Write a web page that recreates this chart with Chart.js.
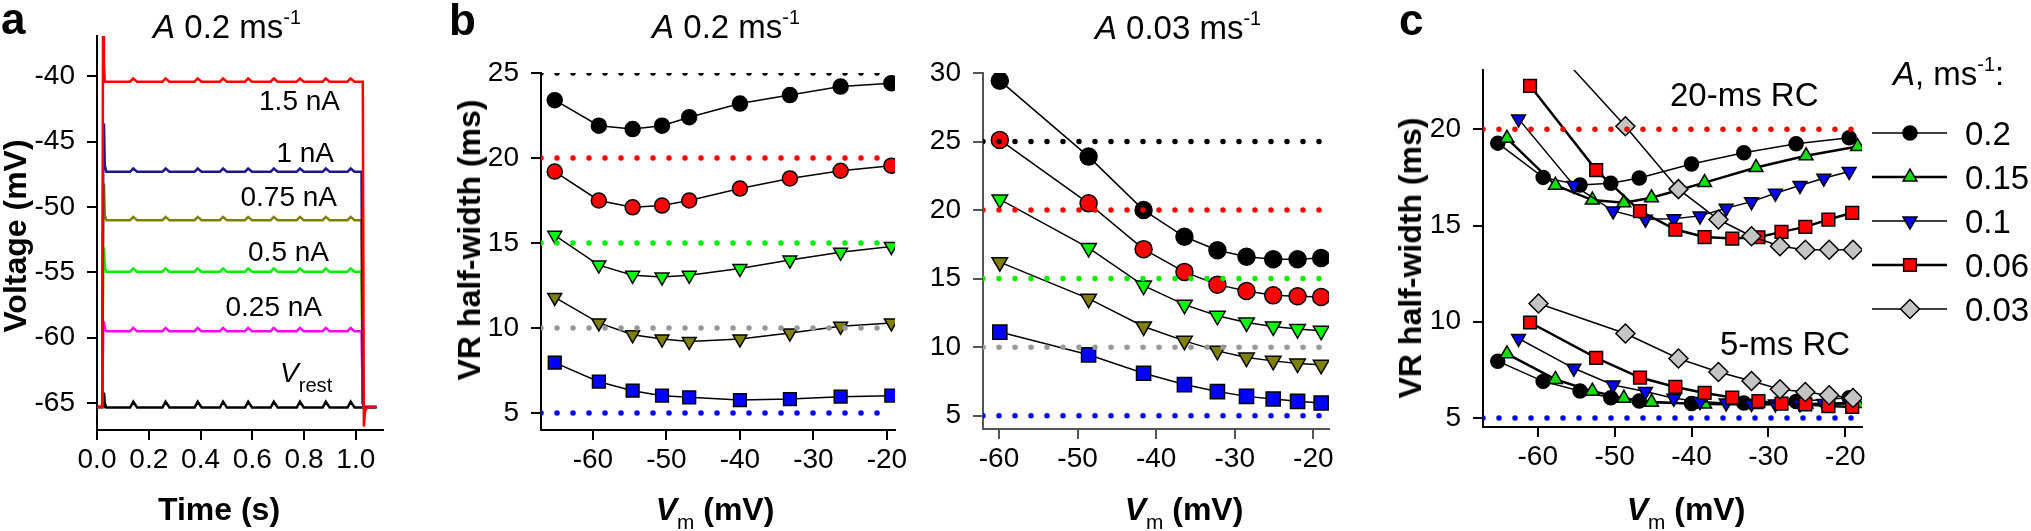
<!DOCTYPE html>
<html>
<head>
<meta charset="utf-8">
<script src="https://cdn.jsdelivr.net/npm/chart.js@4.4.0/dist/chart.umd.min.js"></script>
<style>
  body { margin: 0; background: #fff; }
  #fig { position: relative; width: 2031px; height: 531px; overflow: hidden;
         font-family: "Liberation Sans", Arial, Helvetica, sans-serif; color: #000; }
  canvas { position: absolute; left: 0; top: 0; }
  .t { position: absolute; white-space: nowrap; line-height: 1; }
  .sup { position: relative; top: -0.72em; font-size: 0.6em; }
  .sub { position: relative; top: 0.45em; font-size: 0.65em; font-weight: normal; }
  .rest { position: relative; top: 0.5em; font-size: 0.72em; }
</style>
</head>
<body>
<div id="fig">
  <canvas id="chart-a" width="2031" height="531"></canvas>
  <canvas id="chart-b1" width="2031" height="531"></canvas>
  <canvas id="chart-b2" width="2031" height="531"></canvas>
  <canvas id="chart-c" width="2031" height="531"></canvas>
</div>
<script>
const FONT = '"Liberation Sans", Arial, Helvetica, sans-serif';

// ---- a : voltage traces, A 0.2 ms-1 ----
const timeA = [0, 0.020, 0.024, 0.027, 0.030, 0.036,
  0.128, 0.140, 0.155, 0.253, 0.265, 0.280, 0.377, 0.389, 0.404,
  0.475, 0.487, 0.502, 0.572, 0.584, 0.599, 0.671, 0.683, 0.698,
  0.772, 0.784, 0.799, 0.872, 0.884, 0.899, 0.968, 0.980, 0.995,
  1.022, 1.027, 1.031, 1.036, 1.045, 1.080];
const v15nA = [-65.3, -65.3, -30.0, -39.0, -40.4, -40.4,
  -40.4, -40.15, -40.4, -40.4, -40.15, -40.4, -40.4, -40.15, -40.4,
  -40.4, -40.15, -40.4, -40.4, -40.15, -40.4, -40.4, -40.15, -40.4,
  -40.4, -40.15, -40.4, -40.4, -40.15, -40.4, -40.4, -40.15, -40.4,
  -40.4, -40.4, -66.8, -65.6, -65.3, -65.3];
const v1nA = [-65.3, -65.3, -47.0, -43.6, -46.8, -47.3,
  -47.3, -47.05, -47.3, -47.3, -47.05, -47.3, -47.3, -47.05, -47.3,
  -47.3, -47.05, -47.3, -47.3, -47.05, -47.3, -47.3, -47.05, -47.3,
  -47.3, -47.05, -47.3, -47.3, -47.05, -47.3, -47.3, -47.05, -47.3,
  -47.3, -65.0, -65.3, -65.3, -65.3, -65.3];
const v075nA = [-65.3, -65.3, -50.8, -48.2, -50.6, -51.0,
  -51.0, -50.75, -51.0, -51.0, -50.75, -51.0, -51.0, -50.75, -51.0,
  -51.0, -50.75, -51.0, -51.0, -50.75, -51.0, -51.0, -50.75, -51.0,
  -51.0, -50.75, -51.0, -51.0, -50.75, -51.0, -51.0, -50.75, -51.0,
  -51.0, -65.0, -65.3, -65.3, -65.3, -65.3];
const v05nA = [-65.3, -65.3, -54.8, -53.1, -54.6, -54.95,
  -54.95, -54.7, -54.95, -54.95, -54.7, -54.95, -54.95, -54.7, -54.95,
  -54.95, -54.7, -54.95, -54.95, -54.7, -54.95, -54.95, -54.7, -54.95,
  -54.95, -54.7, -54.95, -54.95, -54.7, -54.95, -54.95, -54.7, -54.95,
  -54.95, -65.0, -65.3, -65.3, -65.3, -65.3];
const v025nA = [-65.3, -65.3, -59.3, -58.75, -59.3, -59.5,
  -59.5, -59.25, -59.5, -59.5, -59.25, -59.5, -59.5, -59.25, -59.5,
  -59.5, -59.25, -59.5, -59.5, -59.25, -59.5, -59.5, -59.25, -59.5,
  -59.5, -59.25, -59.5, -59.5, -59.25, -59.5, -59.5, -59.25, -59.5,
  -59.5, -65.0, -65.3, -65.3, -65.3, -65.3];
const vRest = [-65.3, -65.3, -65.3, -64.2, -65.0, -65.35,
  -65.35, -64.9, -65.35, -65.35, -64.9, -65.35, -65.35, -64.9, -65.35,
  -65.35, -64.9, -65.35, -65.35, -64.9, -65.35, -65.35, -64.9, -65.35,
  -65.35, -64.9, -65.35, -65.35, -64.9, -65.35, -65.35, -64.9, -65.35,
  -65.35, -65.35, -65.35, -65.35, -65.35, -65.35];
const tickTimeA = [0, 0.2, 0.4, 0.6, 0.8, 1.0];
const tickVoltA = [-65, -60, -55, -50, -45, -40];

// ---- b : VR half-width vs Vm ----
const vmB02 = [-65.2, -59.2, -54.6, -50.6, -46.9, -40.0, -33.2, -26.3, -19.4];
const b02rc25 = [23.4, 21.9, 21.7, 21.9, 22.4, 23.2, 23.7, 24.2, 24.4];
const b02rc20 = [19.2, 17.5, 17.1, 17.2, 17.5, 18.2, 18.8, 19.25, 19.55];
const b02rc15 = [15.45, 13.7, 13.1, 13.0, 13.1, 13.5, 14.0, 14.45, 14.8];
const b02rc10 = [11.8, 10.3, 9.6, 9.35, 9.2, 9.35, 9.7, 10.1, 10.3];
const b02rc5  = [7.96, 6.84, 6.31, 6.02, 5.92, 5.76, 5.82, 5.96, 6.02];

const vmB003 = [-59.9, -48.6, -41.6, -36.4, -32.2, -28.5, -25.1, -22.0, -19.0];
const b003rc25 = [29.44, 23.9, 20.0, 18.05, 17.07, 16.6, 16.41, 16.41, 16.5];
const b003rc20 = [25.12, 20.49, 17.15, 15.49, 14.56, 14.1, 13.78, 13.71, 13.66];
const b003rc15 = [20.78, 17.24, 14.49, 13.1, 12.29, 11.8, 11.51, 11.32, 11.2];
const b003rc10 = [16.2, 13.54, 11.51, 10.46, 9.73, 9.24, 9.0, 8.8, 8.71];
const b003rc5  = [11.1, 9.44, 8.1, 7.27, 6.76, 6.41, 6.22, 6.05, 5.93];

const rcLevels = [25, 20, 15, 10, 5];
const tickVm = [-60, -50, -40, -30, -20];
const tickHwB02 = [5, 10, 15, 20, 25];
const tickHwB003 = [5, 10, 15, 20, 25, 30];

// ---- c : 20-ms and 5-ms RC for several A ----
const aLabels = ['0.2', '0.15', '0.1', '0.06', '0.03'];
const vmC02  = [-65.2, -59.3, -54.5, -50.5, -46.8, -40.0, -33.2, -26.4, -19.5];
const c02rc20 = [19.28, 17.5, 17.1, 17.2, 17.47, 18.2, 18.78, 19.25, 19.56];
const c02rc5  = [7.95, 6.9, 6.4, 6.05, 5.88, 5.75, 5.78, 5.85, 6.05];
const vmC015 = [-64.0, -57.7, -52.9, -48.8, -45.2, -38.3, -31.6, -25.1, -18.4];
const c015rc20 = [19.53, 17.09, 16.32, 16.18, 16.44, 17.23, 18.01, 18.62, 19.1];
const c015rc5  = [8.33, 7.0, 6.39, 6.03, 5.82, 5.72, 5.7, 5.72, 5.75];
const vmC01  = [-62.5, -55.3, -50.2, -46.0, -42.3, -38.9, -35.5, -32.2, -29.1, -25.9, -22.8, -19.5];
const c01rc20 = [20.54, 17.08, 15.76, 15.33, 15.35, 15.5, 15.9, 16.24, 16.68, 17.08, 17.46, 17.81];
const c01rc5  = [9.13, 7.58, 6.71, 6.37, 6.02, 5.85, 5.78, 5.75, 5.73, 5.73, 5.75, 5.8];
const vmC006 = [-61.0, -52.4, -46.7, -42.1, -38.3, -34.7, -31.3, -28.3, -25.2, -22.2, -19.1];
const c006rc20 = [22.26, 17.88, 15.75, 14.79, 14.4, 14.32, 14.39, 14.67, 14.93, 15.31, 15.66];
const c006rc5  = [9.96, 8.12, 7.1, 6.61, 6.3, 6.06, 5.87, 5.75, 5.7, 5.62, 5.57];
const vmC003 = [-59.9, -48.6, -41.7, -36.5, -32.2, -28.5, -25.2, -22.1, -19.0];
const c003rc20 = [25.1, 20.16, 16.89, 15.31, 14.44, 13.92, 13.74, 13.74, 13.74];
const c003rc5  = [10.95, 9.39, 8.09, 7.39, 6.92, 6.49, 6.35, 6.18, 6.04];
const tickHwC = [5, 10, 15, 20];

// -------------------------------------------------------------------
function pts(xs, ys) { return xs.map((x, i) => ({ x: x, y: ys[i] })); }

function axis(min, max, ticks, horizontal, color, fmt) {
  return {
    type: 'linear', min: min, max: max,
    afterBuildTicks: s => { s.ticks = ticks.map(v => ({ value: v })); },
    afterFit: s => { if (horizontal) s.height = 60; else s.width = 90; },
    ticks: {
      color: '#000', font: { family: FONT, size: 28 }, padding: horizontal ? 3 : 12,
      autoSkip: false, maxRotation: 0, callback: fmt || (v => String(v))
    },
    grid: { drawOnChartArea: false, drawTicks: true, tickLength: 10, color: color, lineWidth: 2 },
    border: { display: true, color: color, width: 2 }
  };
}

function area(l, t, r, b) {
  return { left: l - 90, top: t, right: 2031 - r, bottom: 531 - b - 60 };
}

function baseOptions(pad, xs, ys) {
  return {
    responsive: false, animation: false, devicePixelRatio: 1,
    layout: { padding: pad },
    plugins: { legend: { display: false }, tooltip: { enabled: false } },
    events: [],
    scales: { x: xs, y: ys }
  };
}

function trace(xs, ys, color) {
  return { data: pts(xs, ys), showLine: true, borderColor: color, borderWidth: 2.5,
           pointRadius: 0, tension: 0 };
}

function dotted(x0, x1, level, color) {
  return { data: [{ x: x0, y: level }, { x: x1, y: level }], showLine: true,
           borderColor: color, borderWidth: 5.5, borderDash: [0, 16], borderCapStyle: 'round',
           pointRadius: 0 };
}

function series(xs, ys, m, lw) {
  return { data: pts(xs, ys), showLine: true, borderColor: '#000', borderWidth: lw || 1.5,
           tension: 0, pointStyle: m.style, pointRotation: m.rot || 0, pointRadius: m.r,
           pointBackgroundColor: m.fill, pointBorderColor: '#000', pointBorderWidth: 1.5 };
}

// ---- panel a
new Chart(document.getElementById('chart-a'), {
  type: 'scatter',
  data: { datasets: [
    trace(timeA, v15nA, '#ff0000'),
    trace(timeA, v1nA, '#1a1a8a'),
    trace(timeA, v075nA, '#808000'),
    trace(timeA, v05nA, '#00f000'),
    trace(timeA, v025nA, '#ff00ff'),
    trace(timeA, vRest, '#000000')
  ] },
  options: baseOptions(area(97, 36, 383, 430),
    axis(0, 1.105, tickTimeA, true, '#000', v => v.toFixed(1)),
    axis(-67.07, -36.9, tickVoltA, false, '#000'))
});

// ---- panel b, two halves
const refColors = ['#000000', '#ff0000', '#00ee00', '#999999', '#0000ff'];
const markB = [
  { style: 'circle', r: 7.5, fill: '#000000' },
  { style: 'circle', r: 7.5, fill: '#ff0000' },
  { style: 'triangle', rot: 180, r: 8, fill: '#00ff00' },
  { style: 'triangle', rot: 180, r: 8, fill: '#808000' },
  { style: 'rect', r: 9, fill: '#0000ff' }
];

const b1Sets = rcLevels.map((lv, i) => dotted(-67.07, -19.2, lv, refColors[i]))
  .concat([b02rc25, b02rc20, b02rc15, b02rc10, b02rc5].map((ys, i) => series(vmB02, ys, markB[i])));
new Chart(document.getElementById('chart-b1'), {
  type: 'scatter',
  data: { datasets: b1Sets },
  options: baseOptions(area(541, 73, 895, 430),
    axis(-67.07, -18.9, tickVm, true, '#000'),
    axis(4.0, 25, tickHwB02, false, '#000'))
});

const markB2 = markB.map(m => Object.assign({}, m, { r: m.r + 1 }));
const b2Sets = rcLevels.map((lv, i) => dotted(-62.04, -19.2, lv, refColors[i]))
  .concat([b003rc25, b003rc20, b003rc15, b003rc10, b003rc5].map((ys, i) => series(vmB003, ys, markB2[i])));
new Chart(document.getElementById('chart-b2'), {
  type: 'scatter',
  data: { datasets: b2Sets },
  options: baseOptions(area(983, 73, 1329, 429),
    axis(-62.04, -18.0, tickVm, true, '#555'),
    axis(4.03, 30, tickHwB003, false, '#555'))
});

// ---- panel c
const markC = [
  { style: 'circle', r: 7, fill: '#000000', lw: 1.5 },
  { style: 'triangle', r: 8, fill: '#11dd11', lw: 2.5 },
  { style: 'triangle', rot: 180, r: 8, fill: '#0000ff', lw: 1.5 },
  { style: 'rect', r: 9, fill: '#ff0000', lw: 2.5 },
  { style: 'rectRot', r: 9.5, fill: '#c4c4c4', lw: 1.5 }
];
const cX = [vmC02, vmC015, vmC01, vmC006, vmC003];
const cY20 = [c02rc20, c015rc20, c01rc20, c006rc20, c003rc20];
const cY5 = [c02rc5, c015rc5, c01rc5, c006rc5, c003rc5];

const cSets = [dotted(-67.12, -19.0, 20, '#ff0000'), dotted(-67.12, -19.0, 5, '#0000ff')];
for (let i = 4; i >= 0; i--) {
  cSets.push(series(cX[i], cY20[i], markC[i], markC[i].lw));
  cSets.push(series(cX[i], cY5[i], markC[i], markC[i].lw));
}

const legendC = {
  id: 'legendC',
  afterDraw(chart) {
    const ctx = chart.ctx;
    ctx.save();
    markC.forEach((m, i) => {
      const y = 133 + i * 44;
      ctx.strokeStyle = '#000';
      ctx.lineWidth = m.lw;
      ctx.beginPath(); ctx.moveTo(1872, y); ctx.lineTo(1947, y); ctx.stroke();
      ctx.fillStyle = m.fill;
      ctx.lineWidth = 1.5;
      Chart.helpers.drawPoint(ctx, { pointStyle: m.style, rotation: m.rot || 0, radius: m.r, borderWidth: 1.5 }, 1910, y);
      ctx.fillStyle = '#000';
      ctx.font = '33px ' + FONT;
      ctx.textBaseline = 'alphabetic';
      ctx.textAlign = 'left';
      ctx.fillText(aLabels[i], 1965, y + 12);
    });
    ctx.restore();
  }
};

new Chart(document.getElementById('chart-c'), {
  type: 'scatter',
  data: { datasets: cSets },
  options: baseOptions(area(1483, 70, 1862, 427),
    axis(-67.12, -17.83, tickVm, true, '#000'),
    axis(4.53, 23.08, tickHwC, false, '#000')),
  plugins: [legendC]
});

// ---- text
const fig = document.getElementById('fig');
function put(html, x, base, size, align, bold) {
  const d = document.createElement('div');
  d.className = 't';
  d.innerHTML = html;
  d.style.fontSize = size + 'px';
  d.style.left = x + 'px';
  d.style.top = (base - 0.8465 * size) + 'px';
  if (bold) d.style.fontWeight = 'bold';
  if (align === 'center') d.style.transform = 'translateX(-50%)';
  if (align === 'right') d.style.transform = 'translateX(-100%)';
  fig.appendChild(d);
}
function putV(html, cx, cy, size) {
  const d = document.createElement('div');
  d.className = 't';
  d.innerHTML = html;
  d.style.fontSize = size + 'px';
  d.style.fontWeight = 'bold';
  d.style.left = cx + 'px';
  d.style.top = cy + 'px';
  d.style.transform = 'translate(-50%, -50%) rotate(-90deg)';
  fig.appendChild(d);
}
const title = a => '<i>A</i> ' + a + ' ms<span class="sup">-1</span>';
const vmTitle = '<i>V</i><span class="sub">m</span> (mV)';

put('a', 1, 34, 44, 'left', true);
put('b', 449, 35, 44, 'left', true);
put('c', 1399, 35, 44, 'left', true);
put(title('0.2'), 227, 38, 33, 'center');
put(title('0.2'), 726, 38, 33, 'center');
put(title('0.03'), 1178, 39, 33, 'center');
put('<i>A</i>, ms<span class="sup">-1</span>:', 1893, 85, 33, 'left');

put('1.5 nA', 340, 111, 28, 'right');
put('1 nA', 334, 163, 28, 'right');
put('0.75 nA', 337, 207, 28, 'right');
put('0.5 nA', 329, 262, 28, 'right');
put('0.25 nA', 322, 317, 28, 'right');
put('<i>V</i><span class="rest">rest</span>', 280, 383, 28, 'left');

put('20-ms RC', 1670, 106, 33, 'left');
put('5-ms RC', 1720, 355, 33, 'left');

put('Time (s)', 219, 520, 32, 'center', true);
put(vmTitle, 715, 520, 32, 'center', true);
put(vmTitle, 1184, 520, 32, 'center', true);
put(vmTitle, 1686, 520, 32, 'center', true);

putV('Voltage (mV)', 15, 236, 32);
putV('VR half-width (ms)', 469, 240, 32);
putV('VR half-width (ms)', 1410, 258, 32);
</script>
</body>
</html>
